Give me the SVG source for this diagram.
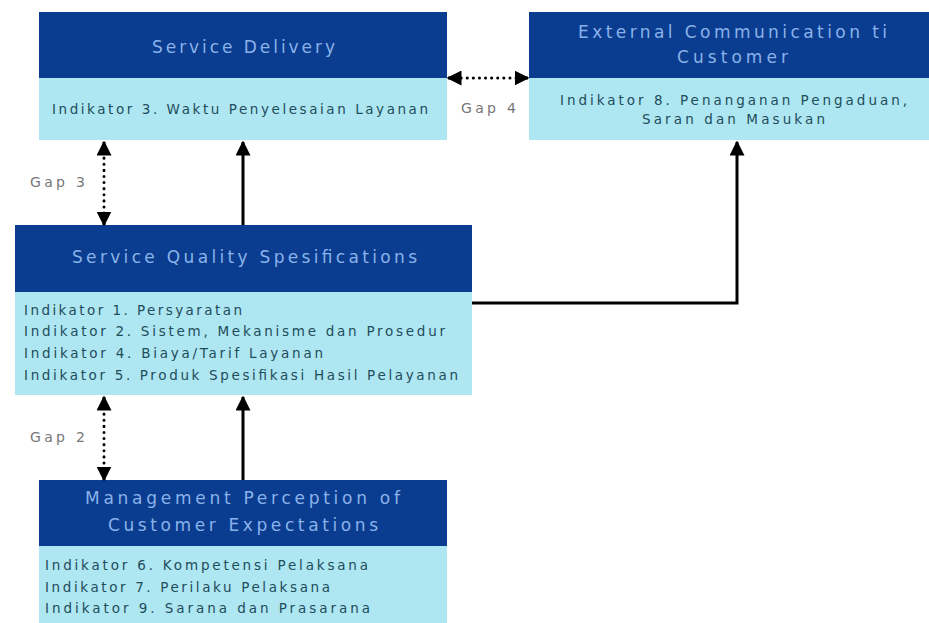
<svg xmlns="http://www.w3.org/2000/svg" width="929" height="623" viewBox="0 0 929 623">
<style>
.hd{fill:#0a3d8f}
.bd{fill:#aee6f1}
.tt{font-family:"DejaVu Sans","Liberation Sans",sans-serif;font-size:17px;fill:#8ab2ea;text-anchor:middle}
.tx{font-family:"DejaVu Sans","Liberation Sans",sans-serif;font-size:13.5px;fill:#1f4d5c}
.gp{font-family:"DejaVu Sans","Liberation Sans",sans-serif;font-size:14px;fill:#777}
.sl{stroke:#000;stroke-width:3;fill:none}
.dl{stroke:#000;stroke-width:3;fill:none;stroke-dasharray:0.1 6;stroke-linecap:round}
</style>
<defs>
<marker id="ah" viewBox="0 0 10 10" refX="9" refY="5" markerWidth="5" markerHeight="5" orient="auto-start-reverse" markerUnits="strokeWidth">
<path d="M0,0 L10,5 L0,10 Z" fill="#000"/>
</marker>
</defs>
<rect width="929" height="623" fill="#fff"/>
<g id="service-delivery">
<rect class="hd" x="39" y="12" width="408" height="66"/>
<rect class="bd" x="39" y="78" width="408" height="62"/>
<text class="tt" x="243.5" y="53" textLength="183" lengthAdjust="spacing">Service Delivery</text>
<text class="tx" x="52" y="114" textLength="376" lengthAdjust="spacing">Indikator 3. Waktu Penyelesaian Layanan</text>
</g>
<g id="external-communication">
<rect class="hd" x="529" y="12" width="400" height="66"/>
<rect class="bd" x="529" y="78" width="400" height="62"/>
<text class="tt" x="732.5" y="38" textLength="309" lengthAdjust="spacing">External Communication ti</text>
<text class="tt" x="732.5" y="63" textLength="111" lengthAdjust="spacing">Customer</text>
<text class="tx" x="733.5" y="105" text-anchor="middle" textLength="347" lengthAdjust="spacing">Indikator 8. Penanganan Pengaduan,</text>
<text class="tx" x="733.5" y="124" text-anchor="middle" textLength="183" lengthAdjust="spacing">Saran dan Masukan</text>
</g>
<g id="service-quality">
<rect class="hd" x="15" y="225" width="457" height="67"/>
<rect class="bd" x="15" y="292" width="457" height="103"/>
<text class="tt" x="244.5" y="263" textLength="345" lengthAdjust="spacing">Service Quality Spesifications</text>
<text class="tx" x="24" y="315" textLength="218" lengthAdjust="spacing">Indikator 1. Persyaratan</text>
<text class="tx" x="24" y="336" textLength="421" lengthAdjust="spacing">Indikator 2. Sistem, Mekanisme dan Prosedur</text>
<text class="tx" x="24" y="358" textLength="299" lengthAdjust="spacing">Indikator 4. Biaya/Tarif Layanan</text>
<text class="tx" x="24" y="380" textLength="434" lengthAdjust="spacing">Indikator 5. Produk Spesifikasi Hasil Pelayanan</text>
</g>
<g id="management-perception">
<rect class="hd" x="39" y="480" width="408" height="66"/>
<rect class="bd" x="39" y="546" width="408" height="77"/>
<text class="tt" x="242.5" y="504" textLength="315" lengthAdjust="spacing">Management Perception of</text>
<text class="tt" x="243" y="531" textLength="270" lengthAdjust="spacing">Customer Expectations</text>
<text class="tx" x="45" y="570" textLength="323" lengthAdjust="spacing">Indikator 6. Kompetensi Pelaksana</text>
<text class="tx" x="45" y="592" textLength="285" lengthAdjust="spacing">Indikator 7. Perilaku Pelaksana</text>
<text class="tx" x="45" y="613" textLength="325" lengthAdjust="spacing">Indikator 9. Sarana dan Prasarana</text>
</g>
<g id="connectors">
<line class="dl" x1="455" y1="78" x2="521" y2="78"/>
<line class="sl" x1="452" y1="78" x2="448" y2="78" marker-end="url(#ah)"/>
<line class="sl" x1="524" y1="78" x2="528" y2="78" marker-end="url(#ah)"/>
<line class="dl" x1="104" y1="152" x2="104" y2="216"/>
<line class="sl" x1="104" y1="147" x2="104" y2="142" marker-end="url(#ah)"/>
<line class="sl" x1="104" y1="220" x2="104" y2="225" marker-end="url(#ah)"/>
<line class="sl" x1="243" y1="225" x2="243" y2="142" marker-end="url(#ah)"/>
<line class="dl" x1="104" y1="408" x2="104" y2="471"/>
<line class="sl" x1="104" y1="402" x2="104" y2="397" marker-end="url(#ah)"/>
<line class="sl" x1="104" y1="475" x2="104" y2="480" marker-end="url(#ah)"/>
<line class="sl" x1="243" y1="480" x2="243" y2="397" marker-end="url(#ah)"/>
<polyline class="sl" points="472,303 737,303 737,142" marker-end="url(#ah)"/>
<text class="gp" x="461" y="113" textLength="55" lengthAdjust="spacing">Gap 4</text>
<text class="gp" x="30" y="187" textLength="55" lengthAdjust="spacing">Gap 3</text>
<text class="gp" x="30" y="442" textLength="55" lengthAdjust="spacing">Gap 2</text>
</g>
</svg>
